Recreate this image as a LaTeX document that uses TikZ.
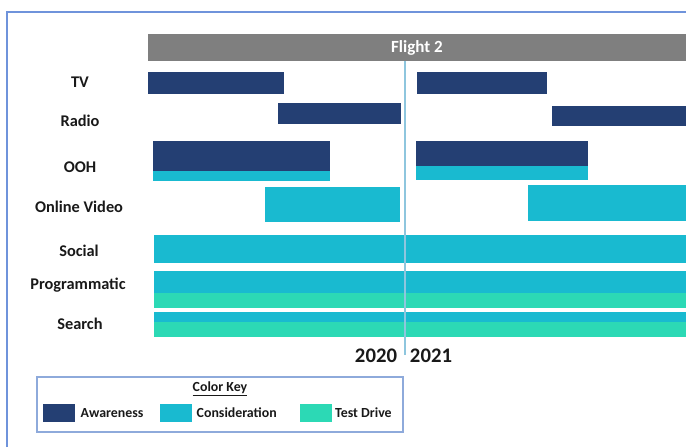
\documentclass[tikz,border=0pt]{standalone}
\usepackage{fontspec}
\setmainfont{Carlito}
\usetikzlibrary{positioning}
\definecolor{awareness}{HTML}{243F73}
\definecolor{consider}{HTML}{19BAD0}
\definecolor{testdrive}{HTML}{2CD9B5}
\definecolor{flightgray}{HTML}{7F7F7F}
\definecolor{frameblue}{HTML}{6F93DB}
\definecolor{keyblue}{HTML}{8EAADB}
\definecolor{splitblue}{HTML}{8EC6DE}

\begin{document}
\begin{tikzpicture}[x=0.02cm, y=-0.02cm,
    channel/.style={font=\fontsize{9.3}{11}\selectfont\bfseries, text=black!90},
    year/.style={font=\fontsize{11.8}{14}\selectfont\bfseries, text=black!90},
    aware/.style={fill=awareness},
    consid/.style={fill=consider},
    drive/.style={fill=testdrive},
    swatch/.style={minimum width=0.64cm, minimum height=0.36cm, inner sep=0pt},
    keytext/.style={font=\fontsize{7.9}{9}\selectfont\bfseries, text=black!90, inner sep=0pt}
]
\useasboundingbox (0,0) rectangle (686,447);

% Outer frame (cut at the right and bottom)
\draw[frameblue, line width=1.4pt] (7,447) -- (7,12) -- (686,12);

% Flight header
\node[fill=flightgray, minimum width=10.76cm, minimum height=0.54cm, inner sep=0pt,
      text=white, font=\fontsize{9.7}{11}\selectfont\bfseries] (flight) at (417,47.5) {Flight 2};

% Channel labels
\node[channel] (tv) at (80,82) {TV};
\node[channel] (radio) at (80,121) {Radio};
\node[channel] (ooh) at (80,167) {OOH};
\node[channel] (video) at (79,207) {Online Video};
\node[channel] (social) at (79,251) {Social};
\node[channel] (prog) at (78,285) {Programmatic};
\node[channel] (search) at (80,324) {Search};

% TV
\fill[aware] (148,72) rectangle (284,94);
\fill[aware] (417,72) rectangle (547,94);
% Radio
\fill[aware] (278,103) rectangle (401,124);
\fill[aware] (552,106) rectangle (686,126);
% OOH
\fill[aware] (153,141) rectangle (330,171);
\fill[consid] (153,171) rectangle (330,181);
\fill[aware] (416,141) rectangle (588,166);
\fill[consid] (416,166) rectangle (588,180);
% Online Video
\fill[consid] (265,187) rectangle (400,222);
\fill[consid] (528,185) rectangle (686,221);
% Social
\fill[consid] (154,235) rectangle (686,263);
% Programmatic
\fill[consid] (154,271) rectangle (686,293);
\fill[drive] (154,293) rectangle (686,308);
% Search
\fill[consid] (154,312) rectangle (686,322);
\fill[drive] (154,322) rectangle (686,337);

% Year split
\coordinate (splitbot) at (405,355);
\draw[splitblue, line width=1.1pt] (flight.south -| splitbot) -- (splitbot);
\node[year] (y2020) at (376,356) {2020};
\node[year] (y2021) at (431,356) {2021};

% Color key
\draw[keyblue, line width=1.1pt] (37,377) rectangle (403,432);
\node[keytext] (keytitle) at (220,389) {\underline{Color Key}};
\node[swatch, aware] (swA) at (59,413) {};
\node[keytext, right=0.1cm of swA] (txtA) {Awareness};
\node[swatch, consid] (swC) at (176,413) {};
\node[keytext, right=0.08cm of swC] (txtC) {Consideration};
\node[swatch, drive] (swT) at (315.5,413) {};
\node[keytext, right=0.06cm of swT] (txtT) {Test Drive};
\end{tikzpicture}
\end{document}
